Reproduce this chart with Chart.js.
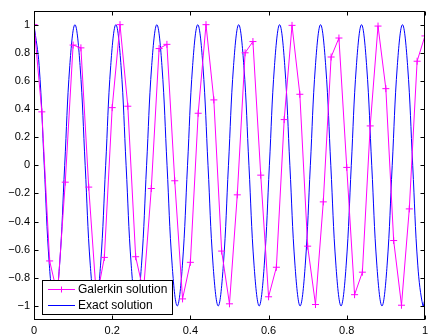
<!DOCTYPE html>
<html>
<head>
<meta charset="utf-8">
<script src="https://cdn.jsdelivr.net/npm/chart.js@4/dist/chart.umd.min.js"></script>
<style>
  body { margin: 0; background: #fff; }
  canvas { display: block; }
</style>
</head>
<body>
<canvas id="chart" width="432" height="334"></canvas>
<script>
// Galerkin solution (one every 0.02)
const galerkinX = [0, 0.02, 0.04, 0.06, 0.08, 0.1, 0.12, 0.14, 0.16, 0.18,
    0.2, 0.22, 0.24, 0.26, 0.28, 0.3, 0.32, 0.34, 0.36, 0.38,
    0.4, 0.42, 0.44, 0.46, 0.48, 0.5, 0.52, 0.54, 0.56, 0.58,
    0.6, 0.62, 0.64, 0.66, 0.68, 0.7, 0.72, 0.74, 0.76, 0.78,
    0.8, 0.82, 0.84, 0.86, 0.88, 0.9, 0.92, 0.94, 0.96, 0.98, 1.0];
const galerkinY = [1.0, 0.38, -0.68, -0.92, -0.12, 0.855, 0.835, -0.155, -0.95, -0.655,
    0.41, 1.0, 0.42, -0.65, -0.9, -0.165, 0.83, 0.86, -0.11, -0.95,
    -0.69, 0.37, 1.0, 0.465, -0.61, -0.985, -0.21, 0.80, 0.88, -0.07,
    -0.935, -0.725, 0.325, 0.995, 0.505, -0.575, -0.99, -0.26, 0.77, 0.905,
    -0.015, -0.92, -0.76, 0.28, 0.99, 0.545, -0.535, -0.995, -0.31, 0.74, 0.92];

// Exact solution, read at peaks, troughs, zero crossings and half-way points
const exactX = [0, 0.0131, 0.0262, 0.0393, 0.0524, 0.0654, 0.0785, 0.0916,
    0.1047, 0.1178, 0.1309, 0.1440, 0.1571, 0.1702, 0.1833, 0.1963,
    0.2094, 0.2225, 0.2356, 0.2487, 0.2618, 0.2749, 0.2880, 0.3011,
    0.3142, 0.3272, 0.3403, 0.3534, 0.3665, 0.3796, 0.3927, 0.4058,
    0.4189, 0.4320, 0.4451, 0.4581, 0.4712, 0.4843, 0.4974, 0.5105,
    0.5236, 0.5367, 0.5498, 0.5629, 0.5760, 0.5890, 0.6021, 0.6152,
    0.6283, 0.6414, 0.6545, 0.6676, 0.6807, 0.6938, 0.7069, 0.7199,
    0.7330, 0.7461, 0.7592, 0.7723, 0.7854, 0.7985, 0.8116, 0.8247,
    0.8378, 0.8508, 0.8639, 0.8770, 0.8901, 0.9032, 0.9163, 0.9294,
    0.9425, 0.9556, 0.9687, 0.9817, 0.9948, 1.0];
const exactY = [1, 0.71, 0, -0.71, -1, -0.71, 0, 0.71,
    1, 0.71, 0, -0.71, -1, -0.71, 0, 0.71,
    1, 0.71, 0, -0.71, -1, -0.71, 0, 0.71,
    1, 0.71, 0, -0.71, -1, -0.71, 0, 0.71,
    1, 0.71, 0, -0.71, -1, -0.71, 0, 0.71,
    1, 0.71, 0, -0.71, -1, -0.71, 0, 0.71,
    1, 0.71, 0, -0.71, -1, -0.71, 0, 0.71,
    1, 0.71, 0, -0.71, -1, -0.71, 0, 0.71,
    1, 0.71, 0, -0.71, -1, -0.71, 0, 0.71,
    1, 0.71, 0, -0.71, -1, -0.95];

const xTickValues = [0, 0.2, 0.4, 0.6, 0.8, 1];
const xTickLabels = ["0", "0.2", "0.4", "0.6", "0.8", "1"];
const yTickValues = [-1, -0.8, -0.6, -0.4, -0.2, 0, 0.2, 0.4, 0.6, 0.8, 1];
const yTickLabels = ["\u22121", "\u22120.8", "\u22120.6", "\u22120.4", "\u22120.2", "0", "0.2", "0.4", "0.6", "0.8", "1"];

const seriesNames = ["Galerkin solution", "Exact solution"];

const FONT = "'Liberation Sans', Arial, sans-serif";

// box, inward ticks on all four sides, legend inside bottom-left
const matlabFrame = {
    id: "matlabFrame",
    afterDatasetsDraw(chart) {
        const ctx = chart.ctx;
        const a = chart.chartArea;
        const xs = chart.scales.x, ys = chart.scales.y;
        const L = Math.round(a.left) + 0.5, R = Math.round(a.right) - 0.5;
        const T = Math.round(a.top) + 0.5, B = Math.round(a.bottom) - 0.5;
        ctx.save();
        ctx.strokeStyle = "#000";
        ctx.lineWidth = 1;
        ctx.beginPath();
        xTickValues.forEach(v => {
            const px = Math.round(xs.getPixelForValue(v)) + 0.5;
            ctx.moveTo(px, B); ctx.lineTo(px, B - 4);
            ctx.moveTo(px, T); ctx.lineTo(px, T + 4);
        });
        yTickValues.forEach(v => {
            const py = Math.round(ys.getPixelForValue(v)) + 0.5;
            ctx.moveTo(L, py); ctx.lineTo(L + 4, py);
            ctx.moveTo(R, py); ctx.lineTo(R - 4, py);
        });
        ctx.stroke();
        ctx.strokeRect(L, T, R - L, B - T);

        // legend
        const lx = 42.5, ly = 280.5, lw = 130, lh = 34;
        ctx.fillStyle = "#fff";
        ctx.fillRect(lx, ly, lw, lh);
        ctx.strokeRect(lx, ly, lw, lh);
        ctx.font = "12px " + FONT;
        ctx.textBaseline = "middle";
        ctx.textAlign = "left";
        const rows = [289.5, 305.5];
        chart.data.datasets.forEach((ds, i) => {
            const y = rows[i];
            ctx.strokeStyle = ds.borderColor;
            ctx.lineWidth = 1;
            ctx.beginPath();
            ctx.moveTo(48, y); ctx.lineTo(75, y);
            if (i === 0) {
                ctx.moveTo(61.5, y - 3); ctx.lineTo(61.5, y + 3);
                ctx.moveTo(58.5, y); ctx.lineTo(64.5, y);
            }
            ctx.stroke();
            ctx.fillStyle = "#000";
            ctx.fillText(ds.label, 78, y + 0.5);
        });
        ctx.restore();
    }
};

const ctx = document.getElementById("chart").getContext("2d");
new Chart(ctx, {
    type: "line",
    data: {
        datasets: [{
            label: seriesNames[0],
            data: galerkinX.map((x, i) => ({ x: x, y: galerkinY[i] })),
            borderColor: "#ff00ff",
            backgroundColor: "#ff00ff",
            borderWidth: 1,
            pointStyle: "cross",
            pointRadius: 3.5,
            pointBorderWidth: 1,
            tension: 0,
            fill: false
        }, {
            label: seriesNames[1],
            data: exactX.map((x, i) => ({ x: x, y: exactY[i] })),
            borderColor: "#0000ff",
            borderWidth: 1,
            pointRadius: 0,
            tension: 0.4,
            fill: false
        }]
    },
    options: {
        responsive: false,
        animation: false,
        devicePixelRatio: 1,
        layout: { autoPadding: false, padding: { top: 7, left: 0, right: 0, bottom: 0 } },
        plugins: { legend: { display: false }, tooltip: { enabled: false } },
        scales: {
            x: {
                type: "linear",
                min: 0,
                max: 1,
                grid: { display: false, drawTicks: false },
                border: { display: false },
                afterBuildTicks: scale => { scale.ticks = xTickValues.map(v => ({ value: v })); },
                afterFit: scale => { scale.height = 14; },
                ticks: {
                    autoSkip: false,
                    maxRotation: 0,
                    padding: 4,
                    color: "#000",
                    font: { family: FONT, size: 11 },
                    callback: (v, i) => xTickLabels[i]
                }
            },
            y: {
                type: "linear",
                min: -1.1,
                max: 1.1,
                grid: { display: false, drawTicks: false },
                border: { display: false },
                afterBuildTicks: scale => { scale.ticks = yTickValues.map(v => ({ value: v })); },
                afterFit: scale => { scale.width = 34; },
                ticks: {
                    autoSkip: false,
                    padding: 4,
                    color: "#000",
                    font: { family: FONT, size: 11 },
                    callback: (v, i) => yTickLabels[i]
                }
            }
        }
    },
    plugins: [matlabFrame]
});
</script>
</body>
</html>
